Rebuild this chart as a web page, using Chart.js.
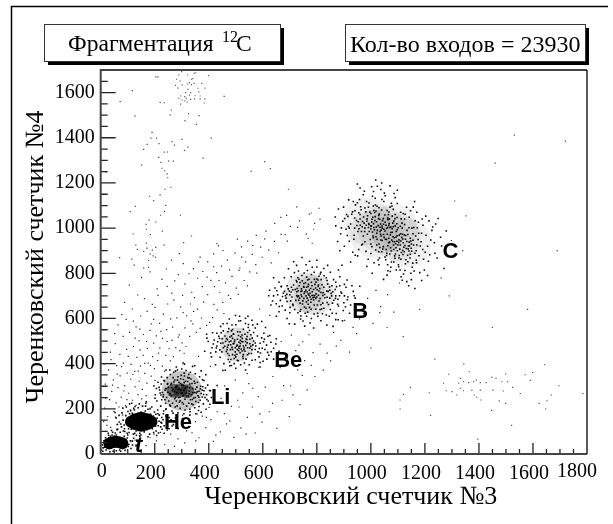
<!DOCTYPE html>
<html>
<head>
<meta charset="utf-8">
<style>
  html, body { margin: 0; padding: 0; background: #fff; }
  canvas { display: block; }
</style>
<script src="https://cdn.jsdelivr.net/npm/chart.js@4"></script>
</head>
<body>
<canvas id="scatterchart" width="613" height="524"></canvas>
<script>
// values, [counter 3, counter 4]
const xTickValues = [0, 200, 400, 600, 800, 1000, 1200, 1400, 1600, 1800];
const yTickValues = [0, 200, 400, 600, 800, 1000, 1200, 1400, 1600];

// dense middles of the clusters, too many events to tell apart
const tCore = [[32,47],[44,52],[56,54],[68,52],[80,48]];
const heMiddle = [[150,143]];
const heInner = [[130,143],[170,143]];
const heEnds = [[112,143],[188,143]];
const liCore = [[270,280],[295,282],[320,278]];
const liHaze = [[300,280]];
const beHaze = [[505,485]];
const bHaze = [[755,715],[790,705]];
const cHaze = [[985,1030],[1040,995],[1095,960],[1135,935],[1010,975],[1085,1000]];

const tDots = [[8,12],[14,30],[20,18],[24,50],[30,72],[36,78],[42,84],[50,80],[58,84],[66,76],[78,70],[88,62],[96,50],[104,42],[110,58],[92,30],[82,24],[70,18],[58,14],[46,12],[34,10],[118,40],[122,70],[100,84],[72,96],[40,104],[18,72],[12,58],[60,108],[84,102],[126,92],[28,92],[6,40],[134,62],[112,24],[90,16],[21,62],[9,27],[44,96],[87,79],[102,33],[74,12],[117,57],[29,83],[54,93],[98,71],[131,36],[3,18]];
const heDots = [[77,120],[83,150],[89,100],[93,170],[97,135],[101,188],[105,95],[109,165],[113,110],[117,180],[121,88],[125,195],[131,102],[135,178],[139,205],[145,92],[149,185],[155,212],[161,98],[165,190],[171,108],[175,198],[181,88],[185,176],[191,112],[195,168],[199,186],[205,102],[209,158],[213,125],[217,172],[223,140],[227,110],[231,152],[235,125],[241,168],[247,138],[253,112],[259,150],[87,128],[103,112],[111,192],[127,210],[143,222],[167,225],[189,208],[211,195],[233,190],[69,142],[63,110],[57,160],[79,182],[95,208],[115,225],[145,78],[175,76],[207,82],[235,92],[269,130],[277,160],[216,145],[222,120],[204,176],[226,162],[244,130],[196,95],[88,112],[74,133],[107,178],[68,171],[122,202],[98,92],[149,84],[166,212],[183,201],[214,93],[232,178],[246,106],[253,161],[226,137],[212,178],[203,124],[264,124],[82,203],[61,131],[132,83],[169,231],[278,141],[241,197],[287,113],[53,184],[107,222]];
const liDots = [[265,280],[272,262],[278,295],[284,272],[288,250],[292,288],[296,268],[300,305],[304,258],[308,282],[312,242],[316,270],[320,298],[324,255],[328,278],[332,240],[336,262],[340,290],[344,248],[348,272],[280,235],[290,318],[302,228],[314,322],[326,225],[338,312],[352,232],[356,296],[360,258],[364,278],[368,238],[372,268],[376,252],[256,268],[250,295],[244,250],[238,282],[232,262],[260,308],[252,235],[266,225],[274,328],[286,342],[298,348],[310,345],[322,338],[334,332],[346,322],[358,318],[370,300],[382,280],[386,250],[392,262],[398,235],[380,222],[364,210],[348,205],[330,198],[312,195],[294,202],[276,208],[258,212],[240,225],[226,240],[220,270],[216,295],[224,310],[234,325],[246,338],[258,352],[270,362],[284,372],[300,376],[316,370],[332,362],[350,355],[366,342],[382,325],[396,305],[406,280],[410,250],[404,220],[390,198],[372,185],[352,178],[330,172],[308,178],[286,182],[264,190],[242,200],[222,212],[208,235],[202,262],[206,290],[212,318],[280,385],[310,398],[340,388],[372,368],[256,372],[296,312],[342,218],[268,338],[378,298],[228,272],[248,312],[318,212],[354,270],[274,245],[306,330],[238,240],[326,352],[362,228],[388,292],[240,290],[262,258],[294,236],[330,310],[350,250],[282,300],[297,283],[281,271],[313,291],[268,287],[327,267],[293,251],[309,316],[258,263],[339,241],[284,327],[351,287],[243,289],[306,221],[363,251],[262,313],[327,337],[231,253],[376,283],[283,213],[349,313],[236,323],[393,241],[309,358],[256,217],[377,329],[218,283],[331,187],[277,367],[403,281],[225,341],[362,193],[305,403],[419,249],[268,181],[201,247],[389,351],[242,372],[431,303],[197,301],[348,391],[301,271],[287,287],[273,277],[317,257],[329,293],[263,293],[341,271],[278,251],[306,304],[249,273],[357,276],[291,229],[322,321],[247,309],[369,289],[271,319],[337,222],[223,261],[296,333],[381,263]];
const beDots = [[505,482],[498,470],[512,495],[520,465],[490,488],[528,478],[480,462],[536,498],[516,448],[496,505],[544,470],[472,482],[524,512],[552,488],[488,440],[506,462],[534,455],[462,498],[510,525],[560,462],[478,518],[542,520],[500,430],[526,432],[454,470],[566,500],[492,530],[548,445],[470,445],[516,540],[574,478],[444,490],[484,545],[556,528],[538,420],[460,522],[582,452],[506,415],[472,418],[590,490],[528,552],[448,452],[566,538],[494,400],[440,512],[598,468],[546,560],[430,478],[518,395],[474,555],[580,522],[454,545],[606,508],[426,452],[560,415],[500,572],[586,430],[442,428],[614,482],[536,578],[420,505],[572,558],[484,392],[456,400],[618,450],[430,535],[604,535],[518,590],[590,405],[468,578],[630,495],[412,470],[550,395],[500,380],[444,565],[626,525],[640,468],[580,575],[410,430],[536,372],[615,420],[476,598],[398,498],[650,510],[560,592],[425,395],[514,610],[590,385],[385,455],[660,455],[610,560],[452,370],[640,420],[392,530],[545,610],[516,478],[482,500],[552,508],[468,462],[528,440],[512,468],[488,512],[558,445],[476,436],[534,530],[450,510],[498,452],[542,492],[506,508],[522,498],[486,472],[530,462],[503,477],[517,489],[488,463],[531,469],[476,497],[541,507],[497,437],[523,527],[459,477],[563,483],[509,413],[471,541],[587,467],[441,461],[551,547],[532,403],[437,521],[603,497],[486,571],[477,407],[619,521],[511,589],[563,571],[417,487],[572,417],[453,577],[631,453],[407,447],[536,601],[601,411],[393,513],[499,613],[648,487],[461,371],[596,587],[517,503],[493,489],[511,457],[537,481],[469,473],[526,497],[484,523],[552,469],[494,423],[561,513],[452,491],[507,541],[543,439],[466,511],[572,491],[428,469],[527,423],[488,551],[591,447],[446,537],[547,573],[478,391],[608,463],[414,537],[622,437],[512,476],[495,497],[523,456],[481,484],[538,509],[504,442],[469,506],[556,477],[491,531],[518,519],[465,454],[572,463],[544,538],[482,418],[433,497],[596,514]];
const bDots = [[775,712],[760,700],[788,728],[800,695],[745,722],[815,715],[768,680],[782,745],[732,700],[830,692],[752,755],[806,748],[720,728],[842,720],[790,660],[738,668],[822,668],[766,770],[708,695],[855,700],[800,775],[726,762],[840,752],[760,645],[698,722],[868,728],[812,640],[780,795],[712,658],[835,780],[686,690],[878,685],[745,790],[850,640],[730,625],[790,620],[690,745],[885,745],[815,805],[676,712],[862,772],[765,812],[700,625],[892,712],[835,615],[665,680],[732,810],[900,670],[668,740],[872,622],[780,600],[740,598],[800,828],[705,785],[908,738],[655,705],[850,805],[690,600],[885,785],[650,665],[760,838],[915,695],[815,590],[725,835],[645,735],[898,635],[680,780],[870,595],[775,580],[925,660],[660,630],[840,835],[640,700],[912,770],[718,575],[800,858],[935,720],[630,660],[880,815],[755,566],[695,820],[942,690],[860,565],[625,725],[745,870],[775,695],[795,735],[752,738],[812,688],[735,745],[826,738],[772,725],[788,682],[748,678],[804,770],[722,680],[858,668],[766,628],[714,748],[848,725],[780,760],[740,640],[826,645],[700,705],[870,700],[816,772],[758,758],[792,702],[742,705],[822,702],[768,742],[802,660],[726,702],[848,690],[778,672],[756,718],[786,702],[764,690],[808,722],[736,690],[838,768],[690,675],[880,655],[706,738],[856,745],[672,655],[902,700],[680,720],[790,805],[730,780],[870,760],[846,610],[718,640],[762,610],[804,610],[660,760],[930,745],[650,610],[895,590],[640,780],[771,703],[783,718],[759,725],[797,709],[744,697],[811,733],[768,663],[793,751],[726,718],[829,706],[751,741],[808,677],[738,759],[847,739],[779,641],[703,678],[863,681],[762,783],[694,731],[827,789],[738,632],[889,717],[803,623],[673,697],[857,623],[717,803],[913,683],[783,827],[661,653],[902,751],[749,589],[826,821],[652,723],[879,594],[698,577],[938,701],[773,853],[636,677],[921,623],[837,571],[714,851],[959,743],[788,558],[622,701],[893,836],[786,692],[764,717],[752,689],[806,703],[743,731],[819,749],[777,733],[733,681],[838,671],[727,733],[853,711],[791,773],[711,663],[873,741],[754,651],[689,707],[796,641],[821,621],[669,743],[753,801],[813,797],[741,611],[877,663],[683,637],[906,652],[724,768],[796,689],[761,673],[731,723],[782,702],[815,661],[801,727],[746,767],[769,751],[837,721],[705,717],[869,689],[768,708],[791,694],[753,711],[805,742],[779,685],[741,719],[823,714],[762,738],[797,761],[728,696],[838,694],[773,649],[711,727],[859,718],[747,664],[818,642],[684,701],[884,701],[808,787],[734,774],[771,774],[701,649],[843,662],[757,623]];
const cDots = [[960,1040],[975,1022],[988,1055],[1002,1008],[1015,1034],[1024,990],[1036,1018],[1047,972],[1058,998],[1066,955],[1079,982],[1088,940],[1097,966],[1109,925],[1118,952],[1131,910],[1142,938],[1151,898],[968,1006],[981,1072],[994,985],[1007,1048],[1019,962],[1031,1062],[1042,945],[1053,1026],[1063,922],[1074,1005],[1085,905],[1094,985],[1104,948],[1113,892],[1124,970],[1136,880],[1146,955],[1158,925],[948,1012],[955,1068],[972,965],[985,1030],[998,950],[1011,1078],[1022,925],[1034,985],[1046,1042],[1057,905],[1069,938],[1081,1022],[1091,885],[1101,1002],[1111,862],[1122,915],[1134,990],[1145,868],[1156,975],[1168,900],[940,1045],[952,985],[962,1095],[978,940],[991,1092],[1004,918],[1017,1102],[1029,895],[1040,1080],[1052,872],[1065,1060],[1076,850],[1089,1042],[1102,838],[1115,1022],[1128,842],[1141,1002],[1155,845],[1166,965],[1178,878],[1186,940],[1172,1002],[1192,905],[925,1018],[932,1072],[938,968],[950,1112],[966,925],[984,1118],[1000,888],[1016,1132],[1032,868],[1048,1118],[1062,838],[1078,1098],[1094,815],[1110,1070],[1126,812],[1142,1048],[1160,810],[1176,1026],[1195,862],[1204,968],[1210,920],[1190,1040],[915,1052],[908,995],[920,942],[935,1118],[955,905],[972,1148],[990,862],[1010,1162],[1030,838],[1050,1155],[1072,808],[1090,1135],[1112,785],[1132,1092],[1150,772],[1170,1070],[1198,815],[1218,882],[1226,990],[1215,1032],[896,1030],[888,975],[902,920],[918,1125],[942,880],[960,1178],[985,830],[1024,1185],[1060,792],[1098,1168],[1140,745],[1162,1118],[1188,768],[1235,935],[1245,868],[1240,1018],[880,1085],[870,1010],[885,900],[925,850],[1005,800],[1210,790],[1258,960],[1040,1200],[950,1195],[1000,1010],[1020,1005],[1038,965],[1068,1020],[1082,962],[1100,925],[1048,995],[1072,970],[1096,942],[1120,935],[1028,1042],[1010,1020],[1058,950],[1090,1010],[1110,975],[1138,908],[1124,895],[1084,925],[1042,1000],[1062,1045],[992,1020],[1008,965],[978,1000],[1030,930],[1116,1000],[1150,930],[1098,900],[1070,885],[1046,918],[960,1060],[1000,1065],[1030,1090],[1060,1078],[1090,1060],[1125,1040],[1152,1000],[1175,950],[1168,858],[1130,860],[1085,850],[1040,895],[1000,930],[965,985],[940,1000],[920,1000],[910,1060],[1076,1110],[1120,1065],[1055,860],[1108,815],[1148,800],[1003,1027],[1027,1011],[973,1049],[1052,987],[1071,1003],[1093,961],[1117,973],[1139,921],[991,1003],[1014,1069],[1037,947],[1063,1037],[1081,941],[1107,907],[1129,967],[947,1034],[964,1081],[987,973],[1009,957],[1033,1039],[1056,1013],[1073,913],[1096,1019],[1119,883],[1148,943],[1163,889],[956,997],[978,1089],[1023,1097],[1044,907],[1067,1071],[1089,867],[1112,1041],[1137,851],[1159,1003],[1183,921],[929,1061],[943,1103],[969,929],[993,1111],[1018,903],[1041,1127],[1058,879],[1083,1083],[1103,829],[1127,1061],[1153,827],[1177,977],[1201,893],[917,1007],[937,951],[958,1127],[982,897],[1006,1141],[1027,859],[1053,1143],[1074,827],[1098,1109],[1121,797],[1147,1077],[1169,847],[1193,1013],[1213,853],[903,1043],[913,967],[951,877],[976,1163],[1012,847],[1037,1171],[1063,811],[1086,1153],[1116,769],[1157,1093],[1181,803],[1222,947],[1229,1005],[891,1001],[899,1093],[933,893],[1003,1183],[1047,773],[1071,1187],[1133,763],[1203,1053],[1237,889],[1249,1043],[868,1049],[877,941],[1018,1213],[1163,733],[1262,921],[1279,987],[1271,821],[993,1016],[1013,993],[1034,1004],[1047,1017],[1061,973],[1079,997],[1087,957],[1103,937],[1114,959],[1126,923],[1141,899],[969,1029],[983,1013],[1022,977],[1043,1033],[1054,951],[1068,1041],[1092,931],[1109,1008],[1133,941],[1076,899],[1029,1056],[1004,1039],[961,1013],[1016,1051],[1105,879],[1098,993],[1066,1012],[1149,911],[1006,983],[1038,991],[1085,1031],[1011,1003],[1049,959],[1077,947],[1105,969],[1021,1028],[1062,1003],[1093,913],[1128,951],[1041,1009],[986,1041],[1000,996],[1036,973],[1074,981],[1111,943],[1143,921],[1066,935],[1083,1006],[1023,951],[953,1028],[1052,1058],[1118,901],[1156,946],[1009,1098],[1097,1047],[1170,925],[977,985],[1033,914],[1079,1053],[1137,972],[1088,877],[996,1071],[1059,889],[1125,1016],[1146,884],[1019,1076],[1071,1093],[941,1077],[1188,977],[1104,868],[1164,1033]];
const bandDots = [[37,118],[11,143],[63,131],[26,166],[81,172],[49,189],[14,203],[92,214],[57,226],[33,241],[118,238],[76,252],[41,277],[103,269],[138,263],[64,294],[17,309],[89,303],[127,297],[154,286],[47,328],[111,331],[72,346],[143,322],[171,314],[98,358],[29,372],[126,366],[59,391],[163,357],[84,402],[187,345],[112,397],[147,389],[38,418],[134,428],[71,441],[176,402],[199,378],[96,463],[157,437],[121,476],[54,489],[192,431],[142,502],[83,521],[211,414],[173,468],[107,538],[228,389],[158,529],[196,491],[131,563],[64,572],[183,547],[219,469],[94,596],[148,611],[241,437],[206,523],[117,642],[172,631],[229,512],[253,466],[196,596],[88,671],[137,704],[218,578],[264,503],[162,688],[244,551],[191,662],[278,471],[232,619],[106,748],[209,731],[266,562],[151,782],[291,527],[248,664],[183,806],[301,492],[227,773],[282,603],[124,836],[263,712],[312,558],[203,871],[296,651],[243,819],[329,521],[274,766],[171,911],[318,612],[341,576],[303,702],[262,858],[354,538],[332,664],[287,794],[373,602],[312,752],[358,641],[392,569],[337,716],[381,672],[306,843],[414,604],[359,778],[396,706],[431,638],[343,821],[421,741],[378,808],[452,671],[408,769],[441,716],[368,872],[473,702],[429,803],[396,851],[462,758],[502,734],[447,832],[418,886],[486,786],[531,768],[469,858],[512,813],[552,806],[436,921],[497,889],[536,851],[574,838],[521,917],[561,884],[598,871],[544,942],[592,916],[622,903],[576,968],[643,941],[612,987],[668,972],[702,1008],[644,1021],[736,1032],[688,1056],[772,1062],[726,1094],[808,1088],[92,28],[127,61],[168,37],[143,83],[206,58],[237,41],[183,72],[259,88],[221,96],[286,67],[246,117],[311,49],[279,126],[338,94],[302,158],[327,121],[364,72],[351,143],[389,117],[417,56],[376,168],[443,98],[408,152],[466,133],[431,187],[493,74],[458,179],[519,116],[484,211],[543,162],[507,238],[572,93],[526,271],[561,208],[597,141],[548,312],[583,254],[624,187],[609,296],[652,113],[637,343],[671,238],[698,166],[664,382],[703,301],[738,219],[691,421],[729,372],[764,284],[722,458],[755,413],[793,343],[748,497],[786,449],[824,371],[771,528],[812,486],[851,412],[889,503],[862,538],[921,451],[903,592],[947,533],[972,622],[1008,578],[988,689],[1036,652],[1019,724],[1062,706],[1085,628],[1106,757],[152,244],[68,208],[23,127],[109,196],[44,305],[131,215],[86,279],[19,247],[168,258],[55,163],[119,352],[36,451],[77,387],[201,326],[146,461],[13,398],[97,241],[61,354],[184,392],[236,366],[128,513],[163,401],[214,447],[52,533],[102,432],[269,431],[187,576],[139,367],[246,498],[78,617],[223,543],[293,458],[121,588],[170,498],[316,476],[201,649],[259,598],[145,553],[334,589],[287,517],[212,702],[344,631],[368,556],[246,742],[305,626],[403,583],[271,681],[376,741],[327,798],[419,662],[291,887],[347,692],[456,622],[394,783],[438,768],[481,688],[362,851],[509,707],[418,829],[543,744],[477,815],[453,901],[522,872],[578,801],[506,951],[563,923],[631,846],[607,952],[658,891],[691,942],[729,1003],[667,1048],[761,973],[792,1021],[131,42],[197,88],[273,34],[318,102],[352,58],[391,162],[426,84],[478,147],[512,208],[538,88],[563,291],[589,178],[636,224],[677,303],[712,262],[746,348],[779,392],[838,447],[872,478],[934,561],[958,598],[1033,626],[303,172],[261,152],[357,178],[401,206],[446,246],[459,302],[498,328],[542,356],[584,384],[406,388],[362,432],[309,446],[258,412],[668,498],[706,526],[734,482],[626,614],[588,642]];
const topPatch = [[300,1693],[289,1678],[322,1678],[346,1685],[352,1688],[399,1675],[281,1659],[294,1651],[302,1634],[328,1644],[346,1641],[374,1641],[277,1632],[286,1620],[322,1638],[336,1635],[360,1619],[386,1620],[314,1600],[323,1614],[333,1600],[363,1603],[296,1585],[311,1582],[328,1589],[349,1586],[368,1585],[289,1575],[301,1567],[311,1563],[316,1575],[333,1570],[347,1572],[368,1572],[386,1572],[296,1549],[320,1557],[383,1554],[336,1659],[341,1662]];
const sparseDots = [[204,1670],[212,1670],[117,1609],[72,1560],[220,1557],[235,1555],[127,1496],[257,1501],[262,1523],[325,1507],[364,1498],[312,1476],[354,1459],[457,1583],[190,1424],[186,1398],[207,1398],[216,1374],[172,1371],[159,1349],[264,1383],[273,1367],[301,1393],[409,1398],[323,1359],[310,1344],[235,1336],[247,1337],[215,1313],[223,1291],[251,1297],[269,1297],[379,1310],[152,1279],[227,1265],[237,1254],[246,1240],[248,1223],[19,1248],[607,1294],[628,1263],[557,1251],[695,1172],[260,1181],[238,1172],[220,1147],[181,1141],[196,1122],[241,1101],[128,1096],[109,1073],[236,1074],[222,1057],[295,1057],[179,1035],[204,1027],[168,1017],[169,995],[228,987],[120,974],[184,971],[336,965],[779,1067],[812,1040],[788,995],[683,971],[768,955],[783,933],[130,925],[169,934],[307,936],[430,931],[204,915],[235,925],[136,906],[159,897],[191,903],[183,885],[194,877],[70,869],[115,863],[177,857],[159,823],[177,826],[515,823],[1720,1385],[1460,1288],[1531,1412],[1310,1120],[1352,1054],[1298,945],[1340,900],[1260,780],[1290,700],[1180,640],[1060,560],[1000,470],[1120,520],[1690,900],[1580,640],[1450,560]];
const rightPatch = [[1288,353],[1331,335],[1269,313],[1325,313],[1343,320],[1362,316],[1380,320],[1390,327],[1405,316],[1427,316],[1448,339],[1463,335],[1485,320],[1506,320],[1499,354],[1571,351],[1599,361],[1590,326],[1643,395],[1344,398],[1364,364],[1237,420],[1279,280],[1300,276],[1318,261],[1331,291],[1343,280],[1374,283],[1383,261],[1392,251],[1405,283],[1408,239],[1452,283],[1475,235],[1499,224],[1490,279],[1525,295],[1553,268],[1696,302],[1668,261],[1652,236],[1623,224],[1647,199],[1785,268],[1447,193],[1521,127],[1396,66],[1221,171],[1146,295],[1216,271],[1121,264],[1108,239],[1108,199]];

const speciesNames = ["t", "He", "Li", "Be", "B", "C"];
const speciesAnchors = [[127,9],[234,112],[408,221],[642,385],[931,602],[1265,867]];

const serif = "'Liberation Serif', 'Times New Roman', serif";
const sans = "'Liberation Sans', Arial, sans-serif";

const toXY = (pts) => pts.map((p) => ({ x: p[0], y: p[1] }));
const dotSet = (pts, radius, color) => ({
  data: toXY(pts),
  pointStyle: "rect",
  pointRadius: radius,
  borderWidth: 0,
  backgroundColor: color,
  showLine: false,
});
const coreSet = (pts, radius, color) => ({
  data: toXY(pts),
  pointStyle: "circle",
  pointRadius: radius,
  borderWidth: 0,
  backgroundColor: color,
  showLine: false,
});

function box(ctx, x, y, w, h, off) {
  ctx.fillStyle = "#000";
  ctx.fillRect(x + off, y + off, w, h);
  ctx.fillStyle = "#fff";
  ctx.fillRect(x, y, w, h);
  ctx.strokeStyle = "#333";
  ctx.lineWidth = 1;
  ctx.strokeRect(x + 0.5, y + 0.5, w, h);
}

const decorations = {
  id: "decorations",
  // nudge the axis title centres, they are not centred on the frame in the original
  afterLayout(chart) {
    chart.scales.x.right += 14;
    chart.scales.y.top -= 10;
  },
  beforeDraw(chart) {
    const ctx = chart.ctx;
    ctx.save();
    ctx.fillStyle = "#fff";
    ctx.fillRect(0, 0, 613, 524);
    ctx.strokeStyle = "#000";
    ctx.lineWidth = 1.5;
    ctx.beginPath();
    ctx.moveTo(11.5, 524);
    ctx.lineTo(11.5, 6.5);
    ctx.lineTo(608, 6.5);
    ctx.stroke();

    box(ctx, 44, 24, 236, 37, 4);
    box(ctx, 345, 24, 240, 37, 4);

    ctx.fillStyle = "#000";
    ctx.textBaseline = "alphabetic";
    ctx.textAlign = "left";
    ctx.font = "23.6px " + serif;
    ctx.fillText("Фрагментация", 68, 51);
    ctx.fillText("C", 236, 51);
    ctx.font = "16px " + serif;
    ctx.fillText("12", 222, 42);
    ctx.font = "24px " + serif;
    ctx.fillText("Кол-во входов = 23930", 350, 52);
    ctx.restore();
  },
  afterDraw(chart) {
    const ctx = chart.ctx;
    const area = chart.chartArea;
    const sx = chart.scales.x;
    const sy = chart.scales.y;
    ctx.save();

    // inside ticks, long every 200, short every 50
    ctx.strokeStyle = "#222";
    ctx.lineWidth = 1.3;
    ctx.beginPath();
    for (let v = 50; v < 1800; v += 50) {
      const px = sx.getPixelForValue(v);
      ctx.moveTo(px, area.bottom);
      ctx.lineTo(px, area.bottom - (v % 200 === 0 ? 11 : 5));
    }
    for (let v = 50; v < 1700; v += 50) {
      const py = sy.getPixelForValue(v);
      ctx.moveTo(area.left, py);
      ctx.lineTo(area.left + (v % 200 === 0 ? 15 : 7), py);
    }
    ctx.stroke();

    // frame
    ctx.strokeStyle = "#444";
    ctx.lineWidth = 2;
    ctx.beginPath();
    ctx.moveTo(area.left, area.bottom);
    ctx.lineTo(area.left, area.top);
    ctx.lineTo(area.right, area.top);
    ctx.moveTo(area.left, area.bottom);
    ctx.lineTo(area.right, area.bottom);
    ctx.stroke();
    ctx.strokeStyle = "#000";
    ctx.lineWidth = 1.3;
    ctx.beginPath();
    ctx.moveTo(area.right, area.top);
    ctx.lineTo(area.right, area.bottom);
    ctx.stroke();

    // the two end labels sit off their ticks in the original
    ctx.fillStyle = "#000";
    ctx.font = "20px " + serif;
    ctx.textAlign = "center";
    ctx.textBaseline = "middle";
    ctx.fillText("0", sx.getPixelForValue(0) + 1, 472);
    ctx.fillText("1800", sx.getPixelForValue(1800) - 10, 472);

    // fragment names
    ctx.textAlign = "left";
    ctx.textBaseline = "alphabetic";
    speciesNames.forEach((name, i) => {
      const a = speciesAnchors[i];
      ctx.font = (name === "t" ? "italic " : "") + "bold 22px " + sans;
      ctx.fillText(name, sx.getPixelForValue(a[0]), sy.getPixelForValue(a[1]));
    });
    ctx.restore();
  },
};

new Chart(document.getElementById("scatterchart").getContext("2d"), {
  type: "scatter",
  data: {
    datasets: [
      coreSet(cHaze, 24, "rgba(0,0,0,0.06)"),
      coreSet(bHaze, 20, "rgba(0,0,0,0.1)"),
      coreSet(beHaze, 17, "rgba(0,0,0,0.14)"),
      coreSet(liHaze, 20, "rgba(0,0,0,0.22)"),
      coreSet(liCore, 7, "rgba(0,0,0,0.5)"),
      coreSet(tCore, 6, "#000"),
      coreSet(heMiddle, 10, "#000"),
      coreSet(heInner, 8.5, "#000"),
      coreSet(heEnds, 6, "#000"),
      dotSet(tDots, 1.1, "#000"),
      dotSet(heDots, 1.1, "#000"),
      dotSet(liDots, 1.1, "#000"),
      dotSet(beDots, 1.1, "#000"),
      dotSet(bDots, 1.1, "#000"),
      dotSet(cDots, 1.1, "#000"),
      dotSet(bandDots, 0.85, "#222"),
      dotSet(topPatch, 0.8, "#555"),
      dotSet(sparseDots, 0.85, "#444"),
      dotSet(rightPatch, 0.8, "#444"),
    ],
  },
  plugins: [decorations],
  options: {
    responsive: false,
    animation: false,
    layout: { padding: { top: 70, right: 26, left: 0, bottom: 0 } },
    plugins: { legend: { display: false }, tooltip: { enabled: false }, title: { display: false } },
    scales: {
      x: {
        type: "linear",
        min: 0,
        max: 1800,
        afterBuildTicks: (scale) => { scale.ticks = xTickValues.map((v) => ({ value: v })); },
        afterFit: (scale) => { scale.height = 70; },
        grid: { display: false, drawTicks: false },
        border: { display: false },
        ticks: {
          autoSkip: false,
          maxRotation: 0,
          padding: 8,
          labelOffset: -4,
          color: "#000",
          font: { family: serif, size: 20 },
          callback: (v) => (v === 0 || v === 1800 ? "" : String(v)),
        },
        title: {
          display: true,
          text: "Черенковский счетчик №3",
          color: "#000",
          font: { family: serif, size: 26 },
          padding: { top: 2, bottom: 11 },
        },
      },
      y: {
        type: "linear",
        min: 0,
        max: 1700,
        afterBuildTicks: (scale) => { scale.ticks = yTickValues.map((v) => ({ value: v })); },
        afterFit: (scale) => { scale.width = 100.7; },
        grid: { display: false, drawTicks: false },
        border: { display: false },
        ticks: {
          autoSkip: false,
          padding: 6,
          color: "#000",
          font: { family: serif, size: 20 },
          callback: (v) => String(v),
        },
        title: {
          display: true,
          text: "Черенковский счетчик №4",
          color: "#000",
          font: { family: serif, size: 26 },
          padding: { top: 21, bottom: 4 },
        },
      },
    },
  },
});
</script>
</body>
</html>
